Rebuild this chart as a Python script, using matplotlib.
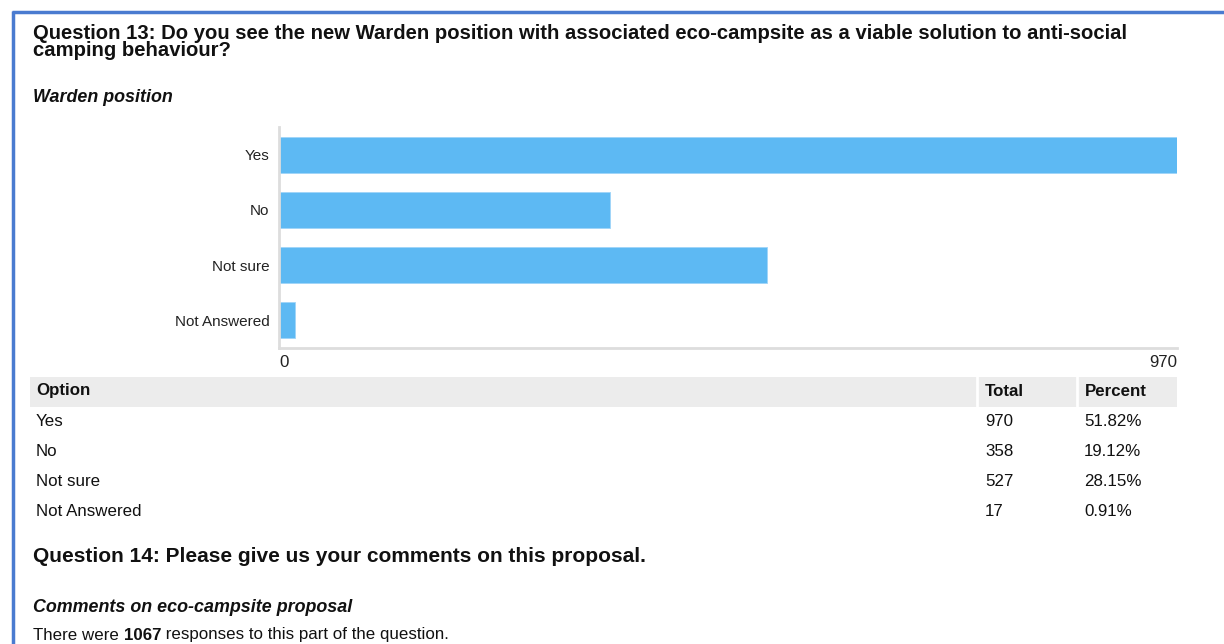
import matplotlib
matplotlib.use("Agg")
import matplotlib.pyplot as plt
from matplotlib.patches import Rectangle
from matplotlib.lines import Line2D

W, H = 1224, 644

options = ["Yes", "No", "Not sure", "Not Answered"]
totals = [970, 358, 527, 17]
percents = ["51.82%", "19.12%", "28.15%", "0.91%"]
n_responses = 1067

plt.rcParams['font.family'] = ['Liberation Sans', 'DejaVu Sans']

bar_color = "#5db9f3"
grid_grey = "#dddddd"
header_grey = "#ececec"
border_blue = "#4a7bd0"

fig = plt.figure(figsize=(W / 100, H / 100), dpi=100)


def fx(x):
    return x / W


def fy(y):
    return 1 - y / H


def txt(x, y, s, **kw):
    kw.setdefault("va", "center")
    kw.setdefault("fontsize", 12.2)
    kw.setdefault("color", "#111111")
    return fig.text(fx(x), fy(y), s, **kw)


# page border (left + top)
fig.add_artist(Line2D([fx(13), fx(13)], [fy(10.5), fy(H + 5)], color=border_blue, lw=2.5,
                      solid_capstyle="butt"))
fig.add_artist(Line2D([fx(12), fx(W)], [fy(11.5), fy(11.5)], color=border_blue, lw=2.5,
                      solid_capstyle="butt"))

# headings (wrapped title, tight line spacing like the source page)
txt(33, 24, "Question 13: Do you see the new Warden position with associated eco-campsite as a viable solution to anti-social\n"
    "camping behaviour?", fontsize=14.6, fontweight="bold", linespacing=0.86, va="top")
txt(33, 97, "Warden position", fontsize=12.9, fontweight="bold", fontstyle="italic")

# bar chart
ax = fig.add_axes([fx(279), fy(348), fx(1177) - fx(279), fy(127) - fy(348)])
ypos = list(range(len(options)))
ax.barh(ypos, totals, height=0.65, color=bar_color, edgecolor="#9fd5f8", linewidth=0.6)
ax.set_xlim(0, max(totals))
ax.set_ylim(len(options) - 0.5, -0.5)
ax.set_yticks(ypos)
ax.set_yticklabels(options, fontsize=11, color="#222222")
ax.set_xticks([0, max(totals)])
ax.set_xticklabels(["0", str(max(totals))], fontsize=12.2, color="#222222")
ax.get_xticklabels()[0].set_horizontalalignment("left")
ax.get_xticklabels()[1].set_horizontalalignment("right")
ax.tick_params(length=0, pad=5)
ax.tick_params(axis="y", pad=7)
for side in ["top", "right"]:
    ax.spines[side].set_visible(False)
for side in ["left", "bottom"]:
    ax.spines[side].set_color(grid_grey)
    ax.spines[side].set_linewidth(2)

# table
fig.add_artist(Rectangle((fx(30), fy(407)), fx(1177) - fx(30), fy(377) - fy(407),
                         transform=fig.transFigure, color=header_grey, lw=0))
for sx in [977, 1077]:
    fig.add_artist(Line2D([fx(sx), fx(sx)], [fy(377), fy(407)], color="white", lw=2))
txt(36, 391, "Option", fontweight="bold")
txt(985, 391, "Total", fontweight="bold")
txt(1085, 391, "Percent", fontweight="bold")
row_y = [421, 451, 481, 511]
for yy, opt, tot, pct in zip(row_y, options, totals, percents):
    txt(36, yy, opt)
    txt(985, yy, str(tot))
    txt(1084, yy, pct)

# question 14
txt(33, 557, "Question 14: Please give us your comments on this proposal.", fontsize=15, fontweight="bold")
txt(33, 607, "Comments on eco-campsite proposal", fontsize=12.9, fontweight="bold", fontstyle="italic")

fig.canvas.draw()
r = fig.canvas.get_renderer()
t1 = txt(33, 635, "There were ")
x1 = 33 + t1.get_window_extent(r).width
t2 = txt(x1, 635, str(n_responses), fontweight="bold")
x2 = x1 + t2.get_window_extent(r).width
txt(x2, 635, " responses to this part of the question.")

fig.savefig("out.png", dpi=100)
